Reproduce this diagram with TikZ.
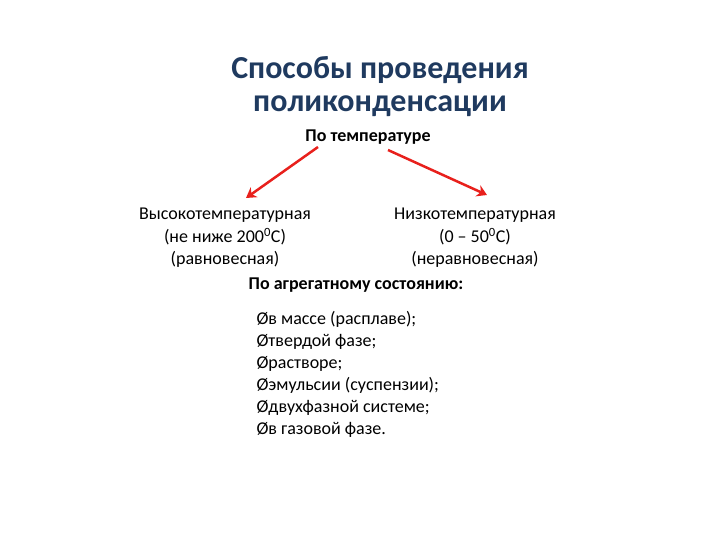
\documentclass[tikz,border=0pt]{standalone}
\usepackage{fontspec}
\usetikzlibrary{arrows.meta}
\setmainfont{Carlito}
\definecolor{ttl}{HTML}{1F3A5F}
\definecolor{arr}{HTML}{E8201C}
\begin{document}
\begin{tikzpicture}[x=1pt,y=-1pt,
  ttlf/.style={font=\fontsize{32}{33}\selectfont\bfseries,text=ttl,align=center},
  hd/.style={font=\fontsize{18}{20}\selectfont\bfseries},
  tx/.style={font=\fontsize{18}{22.5}\selectfont,align=center},
  lst/.style={font=\fontsize{18}{22}\selectfont,align=left,anchor=north west},
  ar/.style={draw=arr,line width=2.5pt,-{Stealth[length=10pt,width=12pt]}}]
\useasboundingbox (0,0) rectangle (720,540);
\node[ttlf] (t) at (380,87) {Способы проведения\\поликонденсации};
\node[hd] (p) at (368,137) {По температуре};
\node[tx] (l) at (225,238) {Высокотемпературная\\(не ниже 200\textsuperscript{0}С)\\(равновесная)};
\node[tx] (r) at (475,238) {Низкотемпературная\\(0 – 50\textsuperscript{0}С)\\(неравновесная)};
\coordinate (ls) at (318,147); \coordinate (le) at (246,198);
\coordinate (rs) at (388,150); \coordinate (re) at (487,195);
\draw[ar] (ls) -- (le);
\draw[ar] (rs) -- (re);
\node[hd] (a) at (356,285) {По агрегатному состоянию:};
\node[lst] (b) at (253,308) {Øв массе (расплаве);\\Øтвердой фазе;\\Øрастворе;\\Øэмульсии (суспензии);\\Øдвухфазной системе;\\Øв газовой фазе.};
\end{tikzpicture}
\end{document}
